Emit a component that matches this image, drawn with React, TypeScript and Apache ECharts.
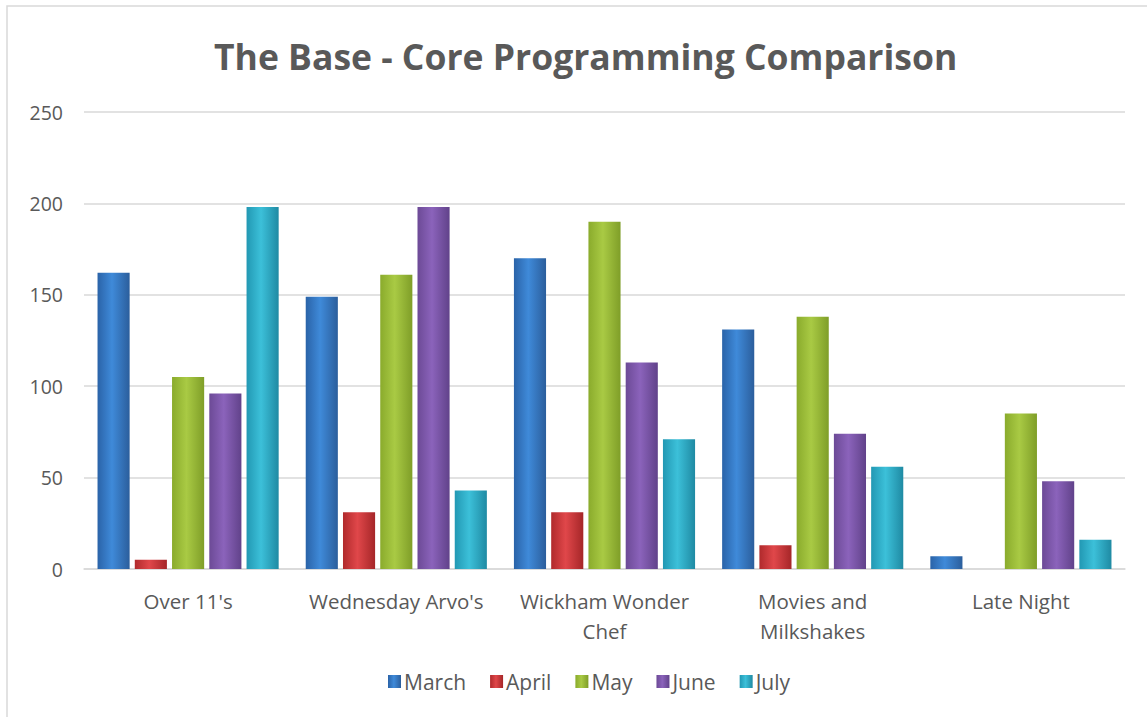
import React, { useEffect, useRef } from "react";
import * as echarts from "echarts";

const categories = ["Over 11's", "Wednesday Arvo's", "Wickham Wonder\nChef", "Movies and\nMilkshakes", "Late Night"];
const seriesNames = ["March", "April", "May", "June", "July"];
const march = [162, 149, 170, 131, 7];
const april = [5, 31, 31, 13, 0];
const may = [105, 161, 190, 138, 85];
const june = [96, 198, 113, 74, 48];
const july = [198, 43, 71, 56, 16];
const yTicks = [0, 50, 100, 150, 200, 250];

const palette = [
  ["#2a63a8", "#3f8ad9", "#2b5e9c"],
  ["#b02a2c", "#e0474a", "#a52628"],
  ["#8aab2c", "#a9ca44", "#7f9e28"],
  ["#6c4a96", "#8b63bb", "#61428a"],
  ["#2298b3", "#3cc0d9", "#1f8aa3"],
];

function grad(c: string[]) {
  return new echarts.graphic.LinearGradient(0, 0, 1, 0, [
    { offset: 0, color: c[0] },
    { offset: 0.45, color: c[1] },
    { offset: 1, color: c[2] },
  ]);
}

export default function App() {
  const ref = useRef<HTMLDivElement>(null);
  useEffect(() => {
    if (!ref.current) return;
    const chart = echarts.init(ref.current, null, { renderer: "svg" });
    const data = [march, april, may, june, july];
    chart.setOption({
      animation: false,
      backgroundColor: "#ffffff",
      textStyle: { fontFamily: "Open Sans" },
      title: {
        text: "The Base - Core Programming Comparison",
        left: 209,
        top: 33,
        textStyle: { fontFamily: "Open Sans", fontWeight: "bold", fontSize: 35.5, color: "#595959" },
      },
      graphic: [
        {
          type: "rect",
          shape: { x: 7, y: 6, width: 1150, height: 720 },
          style: { fill: "none", stroke: "#d9d9d9", lineWidth: 1.5 },
          silent: true,
        },
      ],
      legend: {
        bottom: 20,
        left: 383,
        itemWidth: 13,
        itemHeight: 13,
        itemGap: 24,
        icon: "rect",
        textStyle: { fontSize: 21, color: "#595959", fontFamily: "Open Sans", padding: [0, 0, 0, -2] },
        data: seriesNames,
      },
      grid: { left: 84, right: 22, top: 112, bottom: 148 },
      xAxis: {
        type: "category",
        data: categories,
        axisLine: { lineStyle: { color: "#d9d9d9", width: 1.5 } },
        axisTick: { show: false },
        axisLabel: { fontSize: 20.5, color: "#595959", margin: 17, lineHeight: 30, interval: 0 },
      },
      yAxis: {
        type: "value",
        min: yTicks[0],
        max: yTicks[yTicks.length - 1],
        interval: 50,
        axisLine: { show: false },
        axisTick: { show: false },
        splitLine: { lineStyle: { color: "#d9d9d9", width: 1.5 } },
        axisLabel: { fontSize: 19.5, color: "#595959", margin: 21 },
      },
      series: seriesNames.map((name, i) => ({
        name,
        type: "bar",
        data: data[i],
        barGap: "16%",
        barCategoryGap: "13%",
        itemStyle: { color: grad(palette[i]) },
      })),
    });
    return () => chart.dispose();
  }, []);
  return (
    <div
      ref={ref}
      style={{ position: "absolute", left: 0, top: 0, width: 1147, height: 717 }}
    />
  );
}
